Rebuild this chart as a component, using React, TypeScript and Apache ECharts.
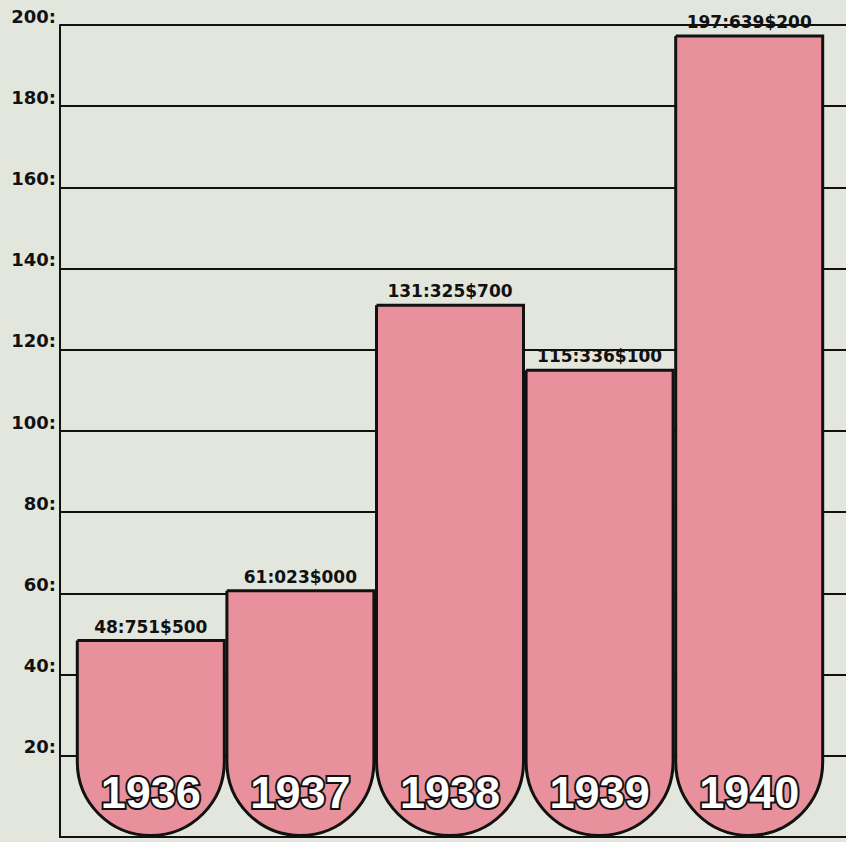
import React, { useEffect, useRef } from "react";
import * as echarts from "echarts";

const years = ["1936", "1937", "1938", "1939", "1940"];
const values = [48.7515, 61.023, 131.3257, 115.3361, 197.6392];
const valueLabels = ["48:751$500", "61:023$000", "131:325$700", "115:336$100", "197:639$200"];
const yMin = 0;
const yMax = 200;
const yStep = 20;

export default function App() {
  const ref = useRef<HTMLDivElement>(null);
  useEffect(() => {
    if (!ref.current) return;
    const chart = echarts.init(ref.current, null, { renderer: "svg" });
    chart.setOption({
      animation: false,
      backgroundColor: "#e3e6dc",
      grid: [
        { left: 60, right: 0, top: 25, bottom: 5 },
        { left: 76, right: 22, top: 25, bottom: 5 },
      ],
      xAxis: [
        {
          gridIndex: 0,
          type: "value",
          min: 0,
          max: 1,
          axisLine: { show: true, onZero: false, lineStyle: { color: "#111", width: 2 } },
          axisTick: { show: false },
          axisLabel: { show: false },
          splitLine: { show: false },
        },
        {
          gridIndex: 1,
          type: "category",
          data: years,
          z: 10,
          axisLine: { show: false },
          axisTick: { show: false },
          splitLine: { show: false },
          axisLabel: {
            inside: true,
            margin: 22,
            fontFamily: "Liberation Sans",
            fontWeight: "bold",
            fontSize: 45,
            color: "#ffffff",
            textBorderColor: "#111",
            textBorderWidth: 4,
          },
        },
      ],
      yAxis: [
        {
          gridIndex: 0,
          type: "value",
          min: yMin,
          max: yMax,
          interval: yStep,
          axisLine: { show: true, lineStyle: { color: "#111", width: 2 } },
          axisTick: { show: false },
          splitLine: { show: true, lineStyle: { color: "#111", width: 2 } },
          axisLabel: {
            margin: 4,
            verticalAlign: "bottom",
            fontFamily: "DejaVu Sans",
            fontWeight: "bold",
            fontSize: 18,
            color: "#111",
            formatter: (v: number) => (v === 0 ? "" : v + ":"),
          },
        },
        {
          gridIndex: 1,
          type: "value",
          min: yMin,
          max: yMax,
          show: false,
          splitLine: { show: false },
        },
      ],
      series: [
        {
          type: "bar",
          xAxisIndex: 1,
          yAxisIndex: 1,
          data: values,
          barWidth: 150,
          itemStyle: {
            color: "#e8919d",
            borderColor: "#111",
            borderWidth: 3,
            borderRadius: [0, 0, 75, 75],
          },
          label: {
            show: true,
            position: "top",
            distance: 4,
            fontFamily: "DejaVu Sans",
            fontWeight: "bold",
            fontSize: 17,
            color: "#111",
            formatter: (p: any) => valueLabels[p.dataIndex],
          },
        },
      ],
    });
    return () => chart.dispose();
  }, []);
  return (
    <div
      ref={ref}
      style={{ position: "fixed", left: 0, top: 0, width: 846, height: 842, background: "#e3e6dc" }}
    />
  );
}
